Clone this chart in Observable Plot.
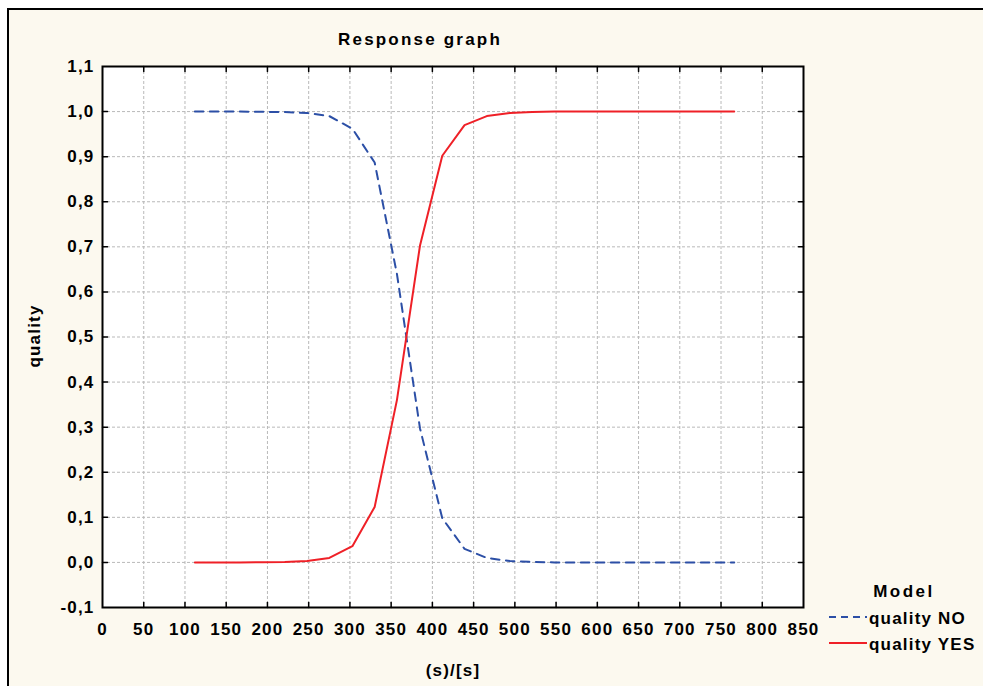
<!DOCTYPE html>
<html>
<head>
<meta charset="utf-8">
<script src="https://cdn.jsdelivr.net/npm/d3@7"></script>
<script src="https://cdn.jsdelivr.net/npm/@observablehq/plot@0.6"></script>
<style>
html, body { margin: 0; padding: 0; background: #ffffff; width: 983px; height: 686px; overflow: hidden; }
#panel { position: absolute; left: 7px; top: 8px; width: 1100px; height: 800px; border: 2px solid #000; background: #fcf9ef; box-sizing: border-box; }
#chart { position: absolute; left: 0; top: 0; }
#overlay { position: absolute; left: 0; top: 0; }
</style>
</head>
<body>
<div id="panel"></div>
<div id="chart"></div>
<svg id="overlay" width="983" height="686"></svg>
<script>
// ---- data ----
const timeValues = [112, 139, 166, 194, 221, 248, 275, 303, 330, 357, 385, 412, 439, 466, 494, 521, 548, 575, 603, 630, 657, 685, 712, 739, 766];
const qualityNO  = [1, 1, 1, 0.9995, 0.999, 0.997, 0.99, 0.962, 0.887, 0.64, 0.297, 0.098, 0.03, 0.01, 0.003, 0.001, 0, 0, 0, 0, 0, 0, 0, 0, 0];
const qualityYES = [0, 0, 0, 0.0005, 0.001, 0.003, 0.01, 0.036, 0.123, 0.36, 0.703, 0.902, 0.97, 0.99, 0.997, 0.999, 1, 1, 1, 1, 1, 1, 1, 1, 1];
const seriesNames = ["quality NO", "quality YES"];
const xTicks = [0, 50, 100, 150, 200, 250, 300, 350, 400, 450, 500, 550, 600, 650, 700, 750, 800, 850];
const yTicks = [-0.1, 0, 0.1, 0.2, 0.3, 0.4, 0.5, 0.6, 0.7, 0.8, 0.9, 1.0, 1.1];
const titleText = "Response graph";
const xLabel = "(s)/[s]";
const yLabel = "quality";
const legendTitle = "Model";

const colorNO = "#2c4fa6";
const colorYES = "#ef2027";
const dashNO = "8.5,6.5";

const rowsNO = timeValues.map((t, i) => ({t, v: qualityNO[i]}));
const rowsYES = timeValues.map((t, i) => ({t, v: qualityYES[i]}));

const fontFamily = "'Liberation Sans', Arial, sans-serif";
const fontSize = "17px";
const spacing = "1.2px";
const tickShape = {draw(ctx, l) { ctx.moveTo(0, 0); ctx.lineTo(0, -l); }};
const fmt = d => (Math.abs(d) < 1e-9 ? 0 : d).toFixed(1).replace(".", ",");
const innerX = xTicks.slice(1, -1);
const innerY = yTicks.slice(1, -1);

const chart = Plot.plot({
  width: 983,
  height: 686,
  marginLeft: 102,
  marginRight: 180,
  marginTop: 66,
  marginBottom: 79,
  style: {background: "transparent", fontFamily, fontSize, fontWeight: "bold", letterSpacing: spacing, overflow: "visible", color: "#000"},
  x: {domain: [0, 850], ticks: xTicks},
  y: {domain: [-0.1, 1.1], ticks: yTicks},
  marks: [
    Plot.frame({fill: "#ffffff", stroke: null}),
    Plot.gridX(innerX, {stroke: "#b9b9b9", strokeOpacity: 1, strokeDasharray: "3,2"}),
    Plot.gridY(innerY, {stroke: "#b9b9b9", strokeOpacity: 1, strokeDasharray: "3,2"}),
    Plot.vector(innerX, {x: d => d, frameAnchor: "bottom", length: 5, rotate: 0, anchor: "start", shape: tickShape, stroke: "#000", strokeWidth: 1.5}),
    Plot.vector(innerX, {x: d => d, frameAnchor: "top", length: 5, rotate: 180, anchor: "start", shape: tickShape, stroke: "#000", strokeWidth: 1.5}),
    Plot.vector(innerY, {y: d => d, frameAnchor: "left", length: 5, rotate: 90, anchor: "start", shape: tickShape, stroke: "#000", strokeWidth: 1.5}),
    Plot.vector(innerY, {y: d => d, frameAnchor: "right", length: 5, rotate: -90, anchor: "start", shape: tickShape, stroke: "#000", strokeWidth: 1.5}),
    Plot.axisX(xTicks, {anchor: "bottom", tickSize: 0, tickPadding: 15, tickFormat: d => String(d), label: null}),
    Plot.axisY(yTicks, {anchor: "left", tickSize: 0, tickPadding: 8, tickFormat: fmt, label: null}),
    Plot.line(rowsNO, {x: "t", y: "v", stroke: colorNO, strokeWidth: 2, strokeDasharray: dashNO}),
    Plot.line(rowsYES, {x: "t", y: "v", stroke: colorYES, strokeWidth: 2}),
    Plot.frame({stroke: "#000", strokeWidth: 2})
  ]
});
document.getElementById("chart").appendChild(chart);

// ---- title, axis labels and legend ----
const ov = d3.select("#overlay")
  .style("font-family", fontFamily)
  .style("font-weight", "bold")
  .style("font-size", fontSize)
  .style("letter-spacing", spacing);

ov.append("text").attr("x", 420).attr("y", 45).attr("text-anchor", "middle").style("letter-spacing", "2.2px").text(titleText);
ov.append("text").attr("x", 453).attr("y", 676).attr("text-anchor", "middle").text(xLabel);
ov.append("text").attr("transform", "translate(40,336) rotate(-90)").attr("text-anchor", "middle").text(yLabel);

ov.append("text").attr("x", 904).attr("y", 597).attr("text-anchor", "middle").style("letter-spacing", "2.5px").text(legendTitle);
const legendItems = [
  {name: seriesNames[0], color: colorNO, dash: "7,5", y: 617},
  {name: seriesNames[1], color: colorYES, dash: null, y: 643}
];
legendItems.forEach(it => {
  ov.append("line").attr("x1", 829).attr("x2", 867).attr("y1", it.y).attr("y2", it.y)
    .attr("stroke", it.color).attr("stroke-width", 2).attr("stroke-dasharray", it.dash);
  ov.append("text").attr("x", 869).attr("y", it.y + 7).text(it.name);
});
</script>
</body>
</html>
